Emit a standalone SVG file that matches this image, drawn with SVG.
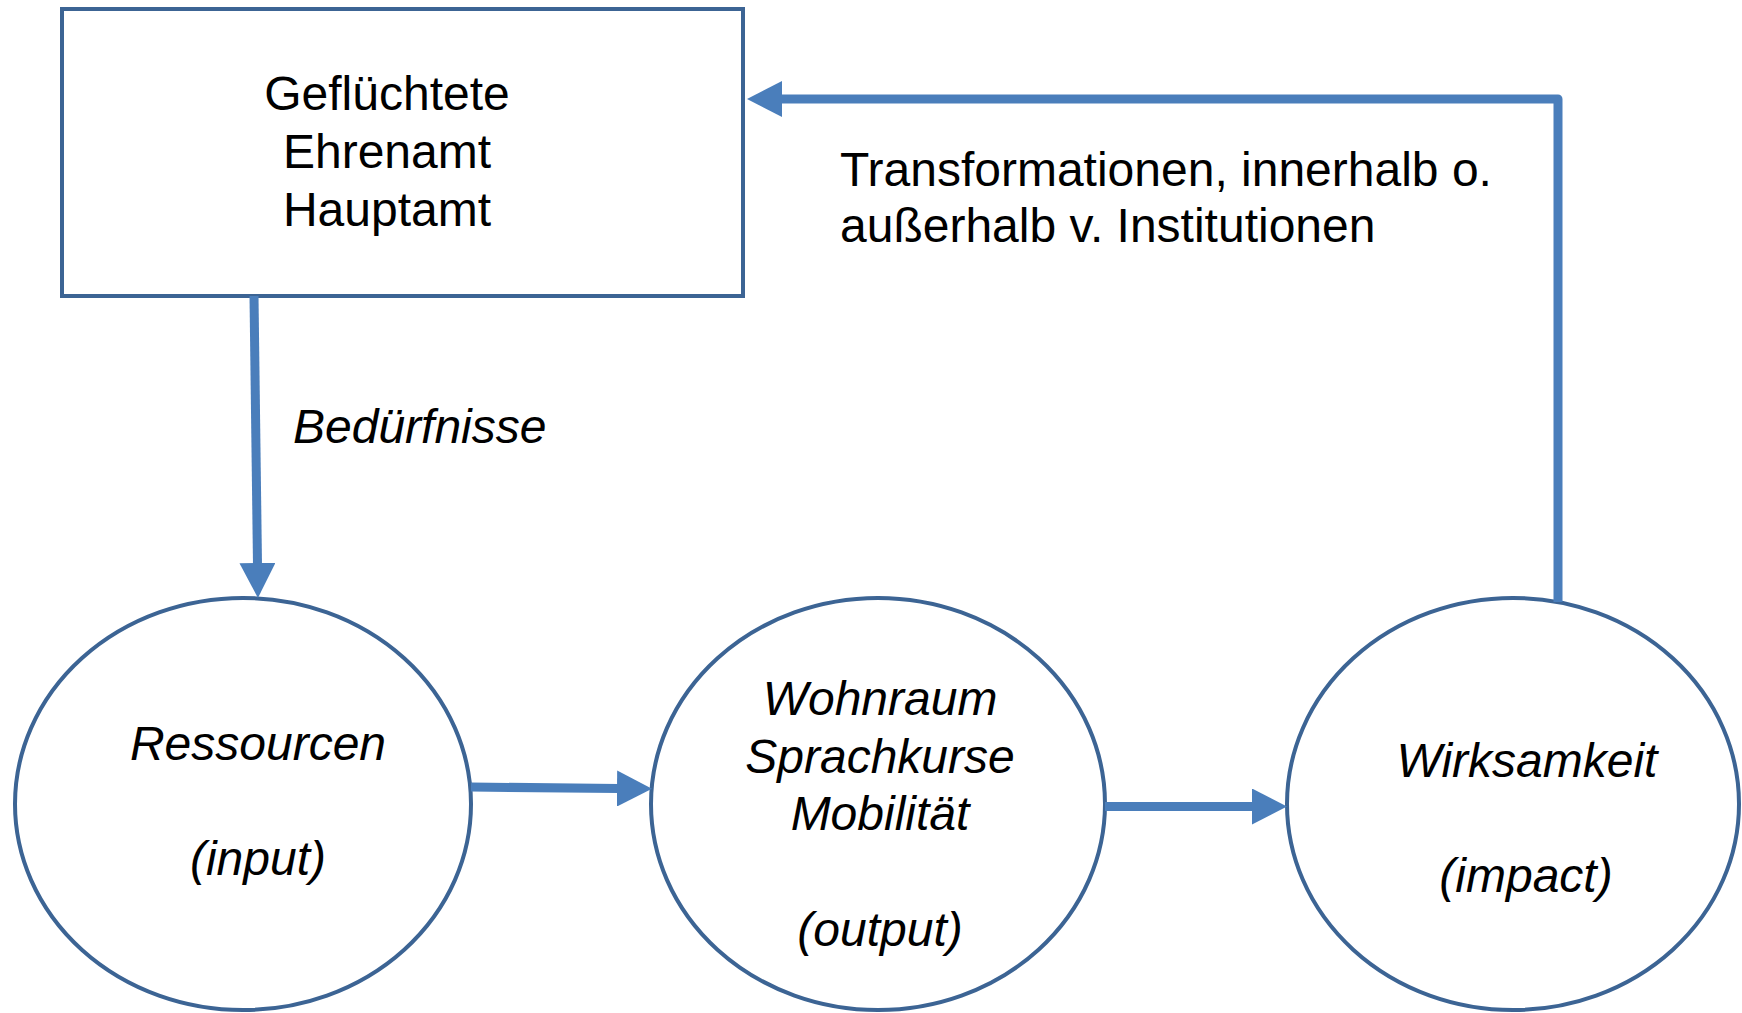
<svg xmlns="http://www.w3.org/2000/svg" width="1742" height="1013" viewBox="0 0 1742 1013">
<style>
.node{fill:#ffffff;stroke:#3c6494;stroke-width:4}
.t{font-family:"Liberation Sans",Arial,sans-serif;font-size:48px;fill:#000000}
.i{font-style:italic}
.c{text-anchor:middle}
.con{fill:none;stroke:#4a7ebb;stroke-width:9;stroke-linejoin:round}
</style>
<defs>
<marker id="ah" markerUnits="userSpaceOnUse" markerWidth="36" markerHeight="36" refX="2" refY="18" orient="auto" viewBox="0 0 36 36">
<path d="M0,0 L35,18 L0,36 z" fill="#4a7ebb"/>
</marker>
</defs>
<rect width="1742" height="1013" fill="#ffffff"/>
<g id="node-akteure">
<rect class="node" x="62" y="9" width="681" height="287"/>
<text class="t c" x="387" y="110">Geflüchtete</text>
<text class="t c" x="387" y="168">Ehrenamt</text>
<text class="t c" x="387" y="226">Hauptamt</text>
</g>
<g id="node-ressourcen">
<ellipse class="node" cx="243" cy="804" rx="228" ry="206"/>
<text class="t i c" x="258" y="760">Ressourcen</text>
<text class="t i c" x="258" y="875">(input)</text>
</g>
<g id="node-output">
<ellipse class="node" cx="878" cy="804" rx="227" ry="206"/>
<text class="t i c" x="880" y="715">Wohnraum</text>
<text class="t i c" x="880" y="773">Sprachkurse</text>
<text class="t i c" x="880" y="830">Mobilität</text>
<text class="t i c" x="880" y="946">(output)</text>
</g>
<g id="node-wirksamkeit">
<ellipse class="node" cx="1513" cy="804" rx="226" ry="206"/>
<text class="t i c" x="1527" y="777">Wirksamkeit</text>
<text class="t i c" x="1526" y="892">(impact)</text>
</g>
<g id="connectors">
<path class="con" d="M254,296 L257.5,565" marker-end="url(#ah)"/>
<path class="con" d="M471,787 L619,788.5" marker-end="url(#ah)"/>
<path class="con" d="M1105,806.5 L1254,806.5" marker-end="url(#ah)"/>
<path class="con" d="M1558,602 L1558,99 L780,99" marker-end="url(#ah)"/>
</g>
<g id="labels">
<text class="t i" x="293" y="443">Bedürfnisse</text>
<text class="t" x="840" y="186">Transformationen, innerhalb o.</text>
<text class="t" x="840" y="242">außerhalb v. Institutionen</text>
</g>
</svg>
